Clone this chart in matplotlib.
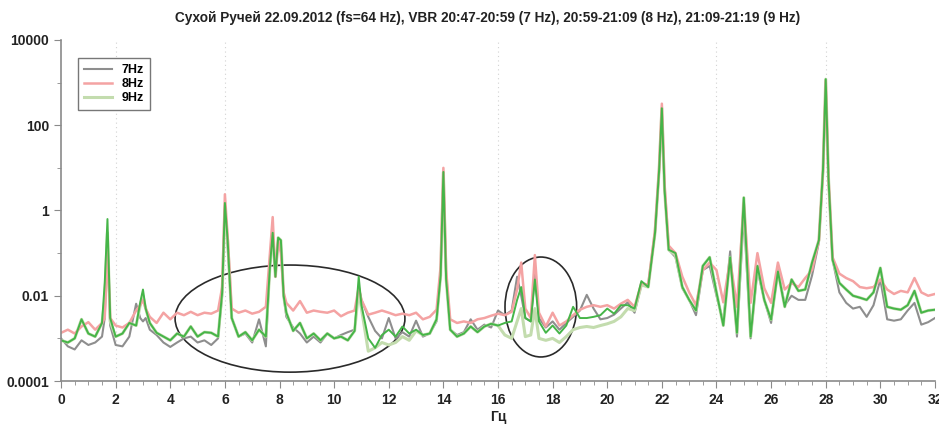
import matplotlib
matplotlib.use("Agg")
import matplotlib.pyplot as plt
from matplotlib.patches import Ellipse
from matplotlib.ticker import FixedLocator, MultipleLocator
import numpy as np

# Spectrum (frequency in Hz, power per series)
freq = [0.0, 0.25, 0.5, 0.75, 1.0, 1.25, 1.5, 1.6, 1.7, 1.8, 2.0, 2.25, 2.5, 2.75, 2.9, 3.0, 3.1,
        3.25, 3.5, 3.75, 4.0, 4.25, 4.5, 4.75, 5.0, 5.25, 5.5, 5.75, 5.9, 6.0, 6.1, 6.25, 6.5,
        6.75, 7.0, 7.25, 7.5, 7.65, 7.75, 7.85, 7.95, 8.05, 8.15, 8.25, 8.5, 8.75, 9.0, 9.25,
        9.5, 9.75, 10.0, 10.25, 10.5, 10.75, 10.9, 11.0, 11.25, 11.5, 11.75, 12.0, 12.25, 12.5,
        12.75, 13.0, 13.25, 13.5, 13.75, 13.9, 14.0, 14.1, 14.25, 14.5, 14.75, 15.0, 15.25,
        15.5, 15.75, 16.0, 16.25, 16.5, 16.7, 16.85, 17.0, 17.2, 17.35, 17.5, 17.75, 18.0,
        18.25, 18.5, 18.75, 19.0, 19.25, 19.5, 19.75, 20.0, 20.25, 20.5, 20.75, 21.0, 21.25,
        21.5, 21.75, 21.9, 22.0, 22.1, 22.25, 22.5, 22.75, 23.0, 23.25, 23.5, 23.75, 24.0,
        24.25, 24.5, 24.75, 25.0, 25.25, 25.5, 25.75, 26.0, 26.25, 26.5, 26.75, 27.0, 27.25,
        27.5, 27.75, 27.9, 28.0, 28.1, 28.25, 28.5, 28.75, 29.0, 29.25, 29.5, 29.75, 30.0,
        30.25, 30.5, 30.75, 31.0, 31.25, 31.5, 31.75, 32.0]

p7 = [1.0e-3, 6.5e-4, 5.5e-4, 9e-4, 7e-4, 8e-4, 1.1e-3, 3e-3, 0.16, 2e-3, 7e-4, 6.5e-4, 1.1e-3,
      6.5e-3, 3e-3, 2.5e-3, 3e-3, 1.6e-3, 1.2e-3, 8e-4, 6.3e-4, 8e-4, 1.0e-3, 1.1e-3, 8e-4,
      9e-4, 7e-4, 1.0e-3, 1.0e-2, 1.3, 0.15, 3e-3, 1.1e-3, 1.3e-3, 8e-4, 2.8e-3, 6.5e-4, 0.05,
      0.3, 0.03, 0.2, 0.15, 0.01, 3.2e-3, 1.8e-3, 1.3e-3, 8e-4, 1.1e-3, 8e-4, 1.3e-3, 1.0e-3,
      1.2e-3, 1.4e-3, 1.6e-3, 1.6e-2, 8e-3, 3.2e-3, 1.5e-3, 1.0e-3, 3e-3, 1.0e-3, 1.4e-3,
      1.1e-3, 2.6e-3, 1.1e-3, 1.3e-3, 2.5e-3, 0.03, 8.0, 0.03, 1.6e-3, 1.2e-3, 1.4e-3, 2.8e-3,
      1.6e-3, 2.1e-3, 1.8e-3, 4.5e-3, 3.5e-3, 4.5e-3, 2.8e-2, 1.0e-2, 3e-3, 2.5e-3, 3.2e-2,
      3e-3, 1.8e-3, 2.5e-3, 1.6e-3, 2.3e-3, 3.2e-3, 4.5e-3, 1.05e-2, 5e-3, 2.8e-3, 3e-3,
      3.6e-3, 5e-3, 7e-3, 4e-3, 1.8e-2, 1.8e-2, 0.3, 8.0, 200.0, 3.0, 0.12, 0.08, 1.5e-2, 8e-3,
      3.5e-3, 4e-2, 5e-2, 1e-2, 2.5e-3, 0.11, 1.1e-3, 0.8, 1.0e-3, 4e-2, 8e-3, 2.3e-3, 4e-2,
      6e-3, 1.0e-2, 8e-3, 8e-3, 3e-2, 0.18, 8.0, 1000.0, 5.0, 0.07, 1.2e-2, 6.8e-3, 5e-3,
      5.5e-3, 3.2e-3, 6e-3, 2.4e-2, 2.8e-3, 2.6e-3, 2.8e-3, 4.5e-3, 6.8e-3, 2.1e-3, 2.4e-3,
      3e-3]

p8 = [1.35e-3, 1.6e-3, 1.3e-3, 1.9e-3, 2.4e-3, 1.6e-3, 2.3e-3, 3e-3, 0.11, 3e-3, 2e-3, 1.8e-3,
      2.3e-3, 4.5e-3, 6e-3, 8e-3, 5e-3, 3.2e-3, 2.3e-3, 4e-3, 2.8e-3, 4e-3, 3.5e-3, 4.2e-3,
      3.5e-3, 4e-3, 3.8e-3, 4.5e-3, 1.6e-2, 2.4, 0.25, 5e-3, 4e-3, 4.5e-3, 3.8e-3, 4.2e-3,
      5.5e-3, 0.1, 0.7, 0.028, 0.2, 0.1, 1.2e-2, 6.8e-3, 4.5e-3, 7.5e-3, 4e-3, 4.5e-3, 4.2e-3,
      4e-3, 4.5e-3, 3.3e-3, 4e-3, 4.5e-3, 1.6e-2, 8e-3, 3.6e-3, 4e-3, 4.5e-3, 4e-3, 3.5e-3,
      3.8e-3, 3.5e-3, 4e-3, 2.8e-3, 3.2e-3, 4.7e-3, 0.05, 10.0, 0.04, 2.8e-3, 2.3e-3, 2.5e-3,
      2.3e-3, 2.8e-3, 3e-3, 3.4e-3, 3.8e-3, 3.5e-3, 4.2e-3, 1.4e-2, 6e-2, 5e-3, 3e-3, 9e-2,
      4e-3, 1.9e-3, 4e-3, 2.0e-3, 2.5e-3, 3.5e-3, 4.7e-3, 5.5e-3, 6e-3, 5.5e-3, 6e-3, 5e-3,
      6.5e-3, 8e-3, 5.5e-3, 2e-2, 1.8e-2, 0.35, 10.0, 320.0, 4.0, 0.15, 0.1, 2.8e-2, 1.2e-2,
      6e-3, 4e-2, 6e-2, 4e-2, 7e-3, 0.07, 5.5e-3, 1.5, 6.8e-3, 0.1, 1.5e-2, 6.8e-3, 0.06,
      1.4e-2, 2e-2, 1.6e-2, 2.6e-2, 4e-2, 0.2, 8.0, 1100.0, 6.0, 0.08, 3.3e-2, 2.6e-2, 2.2e-2,
      1.6e-2, 1.5e-2, 1.6e-2, 2.4e-2, 1.4e-2, 1.1e-2, 1.3e-2, 1.2e-2, 2.6e-2, 1.2e-2, 1.0e-2,
      1.1e-2]

p9 = [9e-4, 8e-4, 1.0e-3, 2.8e-3, 1.3e-3, 1.1e-3, 2.3e-3, 8e-3, 0.3, 2.5e-3, 1.1e-3, 1.3e-3,
      2.3e-3, 2.0e-3, 6e-3, 1.0e-2, 5e-3, 2.3e-3, 1.35e-3, 1.1e-3, 9e-4, 1.3e-3, 1.1e-3, 1.9e-3,
      1.1e-3, 1.4e-3, 1.35e-3, 1.1e-3, 1.2e-2, 1.0, 0.2, 3e-3, 1.1e-3, 1.4e-3, 9e-4, 1.6e-3,
      1.1e-3, 0.05, 0.3, 0.028, 0.23, 0.2, 0.01, 4e-3, 1.5e-3, 2.3e-3, 1.0e-3, 1.3e-3, 9e-4,
      1.3e-3, 1.0e-3, 1.1e-3, 9e-4, 1.5e-3, 1.4e-2, 5e-3, 5e-4, 6e-4, 8e-4, 7e-4, 8e-4, 1.1e-3,
      9e-4, 1.5e-3, 1.2e-3, 1.3e-3, 2.8e-3, 0.03, 8.0, 0.025, 1.6e-3, 1.1e-3, 1.3e-3, 1.9e-3,
      1.4e-3, 1.9e-3, 2.2e-3, 2.0e-3, 1.2e-3, 1.0e-3, 2.5e-3, 5e-3, 1.1e-3, 1.2e-3, 5e-3,
      1.0e-3, 9e-4, 1.0e-3, 8e-4, 1.1e-3, 1.6e-3, 1.8e-3, 1.9e-3, 1.8e-3, 2.0e-3, 2.2e-3,
      2.5e-3, 3.2e-3, 5e-3, 4.5e-3, 1.8e-2, 1.6e-2, 0.3, 9.0, 250.0, 3.0, 0.12, 0.09, 1.6e-2,
      8e-3, 4.5e-3, 5e-2, 8e-2, 1.2e-2, 2e-3, 0.08, 1.35e-3, 2.0, 1.1e-3, 5e-2, 8e-3, 2.75e-3,
      3.7e-2, 5.5e-3, 2.4e-2, 1.3e-2, 1.4e-2, 6e-2, 0.2, 9.0, 1200.0, 6.0, 0.07, 2e-2, 1.4e-2,
      1.0e-2, 9e-3, 8e-3, 1.2e-2, 4.5e-2, 5.5e-3, 5e-3, 4.7e-3, 6e-3, 1.3e-2, 4e-3, 4.5e-3,
      4.7e-3]

# brighter green trace drawn over the others (not in the legend)
p9b = [9e-4, 8e-4, 1.0e-3, 2.8e-3, 1.3e-3, 1.1e-3, 2.3e-3, 2e-2, 0.63, 3e-3, 1.1e-3, 1.3e-3,
       2.3e-3, 2.0e-3, 7e-3, 1.4e-2, 5e-3, 2.3e-3, 1.35e-3, 1.1e-3, 9e-4, 1.3e-3, 1.1e-3,
       1.9e-3, 1.1e-3, 1.4e-3, 1.35e-3, 1.1e-3, 1.2e-2, 1.5, 0.2, 3e-3, 1.1e-3, 1.4e-3, 9e-4,
       1.6e-3, 1.1e-3, 0.05, 0.3, 0.028, 0.23, 0.2, 0.01, 4e-3, 1.5e-3, 2.3e-3, 1.0e-3, 1.3e-3,
       9e-4, 1.3e-3, 1.0e-3, 1.1e-3, 9e-4, 1.5e-3, 2.8e-2, 6e-3, 1.0e-3, 6e-4, 1.2e-3, 1.6e-3,
       1.1e-3, 1.9e-3, 1.3e-3, 1.6e-3, 1.2e-3, 1.3e-3, 2.8e-3, 0.03, 8.0, 0.025, 1.6e-3, 1.1e-3,
       1.3e-3, 1.9e-3, 1.4e-3, 1.9e-3, 2.2e-3, 2.0e-3, 2.3e-3, 2.5e-3, 8e-3, 1.6e-2, 3e-3,
       2.5e-3, 2.4e-2, 2.5e-3, 1.35e-3, 2.0e-3, 1.3e-3, 2.0e-3, 5.5e-3, 3e-3, 3.0e-3, 3.2e-3,
       3.5e-3, 5e-3, 3.8e-3, 6e-3, 6e-3, 5e-3, 2.2e-2, 1.6e-2, 0.3, 9.0, 250.0, 3.0, 0.12, 0.1,
       1.6e-2, 8e-3, 4.5e-3, 5e-2, 8e-2, 1.2e-2, 2e-3, 0.08, 1.35e-3, 2.0, 1.1e-3, 5e-2, 8e-3,
       2.75e-3, 3.7e-2, 5.5e-3, 2.4e-2, 1.3e-2, 1.4e-2, 6e-2, 0.2, 9.0, 1200.0, 6.0, 0.07,
       2e-2, 1.4e-2, 1.0e-2, 9e-3, 8e-3, 1.2e-2, 4.5e-2, 5.5e-3, 5e-3, 4.7e-3, 6e-3, 1.3e-2,
       4e-3, 4.5e-3, 4.7e-3]

ytick_vals = [1e-4, 1e-2, 1, 100, 10000]
ytick_labels = ["0.0001", "0.01", "1", "100", "10000"]
grid_x = [2, 6, 16, 24, 28]

plt.rcParams['font.family'] = ['Liberation Sans', 'DejaVu Sans']

fig = plt.figure(figsize=(9.39, 4.25), dpi=100)
ax = fig.add_axes([0.065, 0.1035, 0.9307, 0.8025])

for gx in grid_x:
    ax.axvline(gx, color='#d2d2d2', lw=0.8, ls=(0, (1, 3)), zorder=0)

ax.plot(freq, p7, color='#8e8e8e', lw=1.5, label='7Hz')
ax.plot(freq, p9, color='#c3dcae', lw=2.2, label='9Hz')
ax.plot(freq, p8, color='#f4a3a3', lw=1.8, label='8Hz')
ax.plot(freq, p9b, color='#45b548', lw=1.4)

ax.set_yscale('log')
ax.set_ylim(1e-4, 1e4)
ax.set_xlim(0, 32)
ax.yaxis.set_major_locator(FixedLocator(ytick_vals))
ax.set_yticklabels(ytick_labels)
ax.yaxis.set_minor_locator(FixedLocator([1e-3, 1e-1, 10, 1000]))
ax.yaxis.set_minor_formatter(plt.NullFormatter())
ax.xaxis.set_major_locator(MultipleLocator(2))
ax.xaxis.set_minor_locator(MultipleLocator(0.5))

for s in ['top', 'right']:
    ax.spines[s].set_visible(False)
for s in ['left', 'bottom']:
    ax.spines[s].set_color('#8a8a8a')
    ax.spines[s].set_linewidth(1.2)
ax.tick_params(which='both', colors='#8a8a8a', labelcolor='#222222')
ax.tick_params(which='major', length=5, labelsize=10)
ax.tick_params(which='minor', length=3)
for lab in ax.get_xticklabels() + ax.get_yticklabels():
    lab.set_fontweight('bold')

ax.set_xlabel('Гц', fontsize=10, fontweight='bold', color='#222222', labelpad=2)
ax.set_title('Сухой Ручей 22.09.2012 (fs=64 Hz), VBR 20:47-20:59 (7 Hz), 20:59-21:09 (8 Hz), '
             '21:09-21:19 (9 Hz)', fontsize=9.8, fontweight='bold', color='#222222', pad=13,
             x=0.488)

h, l = ax.get_legend_handles_labels()
order = [0, 2, 1]
leg = ax.legend([h[i] for i in order], [l[i] for i in order], loc='upper left',
                bbox_to_anchor=(0.012, 0.965), prop={'weight': 'bold', 'size': 9},
                handlelength=2.2, borderpad=0.5, labelspacing=0.15, fancybox=False,
                edgecolor='#777777', framealpha=1)

ax.add_patch(Ellipse((0.262, 0.183), 0.263, 0.314, transform=ax.transAxes, fill=False,
                     edgecolor='#2a2a2a', lw=1.2))
ax.add_patch(Ellipse((0.549, 0.217), 0.082, 0.293, transform=ax.transAxes, fill=False,
                     edgecolor='#2a2a2a', lw=1.2))

fig.savefig('out.png', dpi=100)
